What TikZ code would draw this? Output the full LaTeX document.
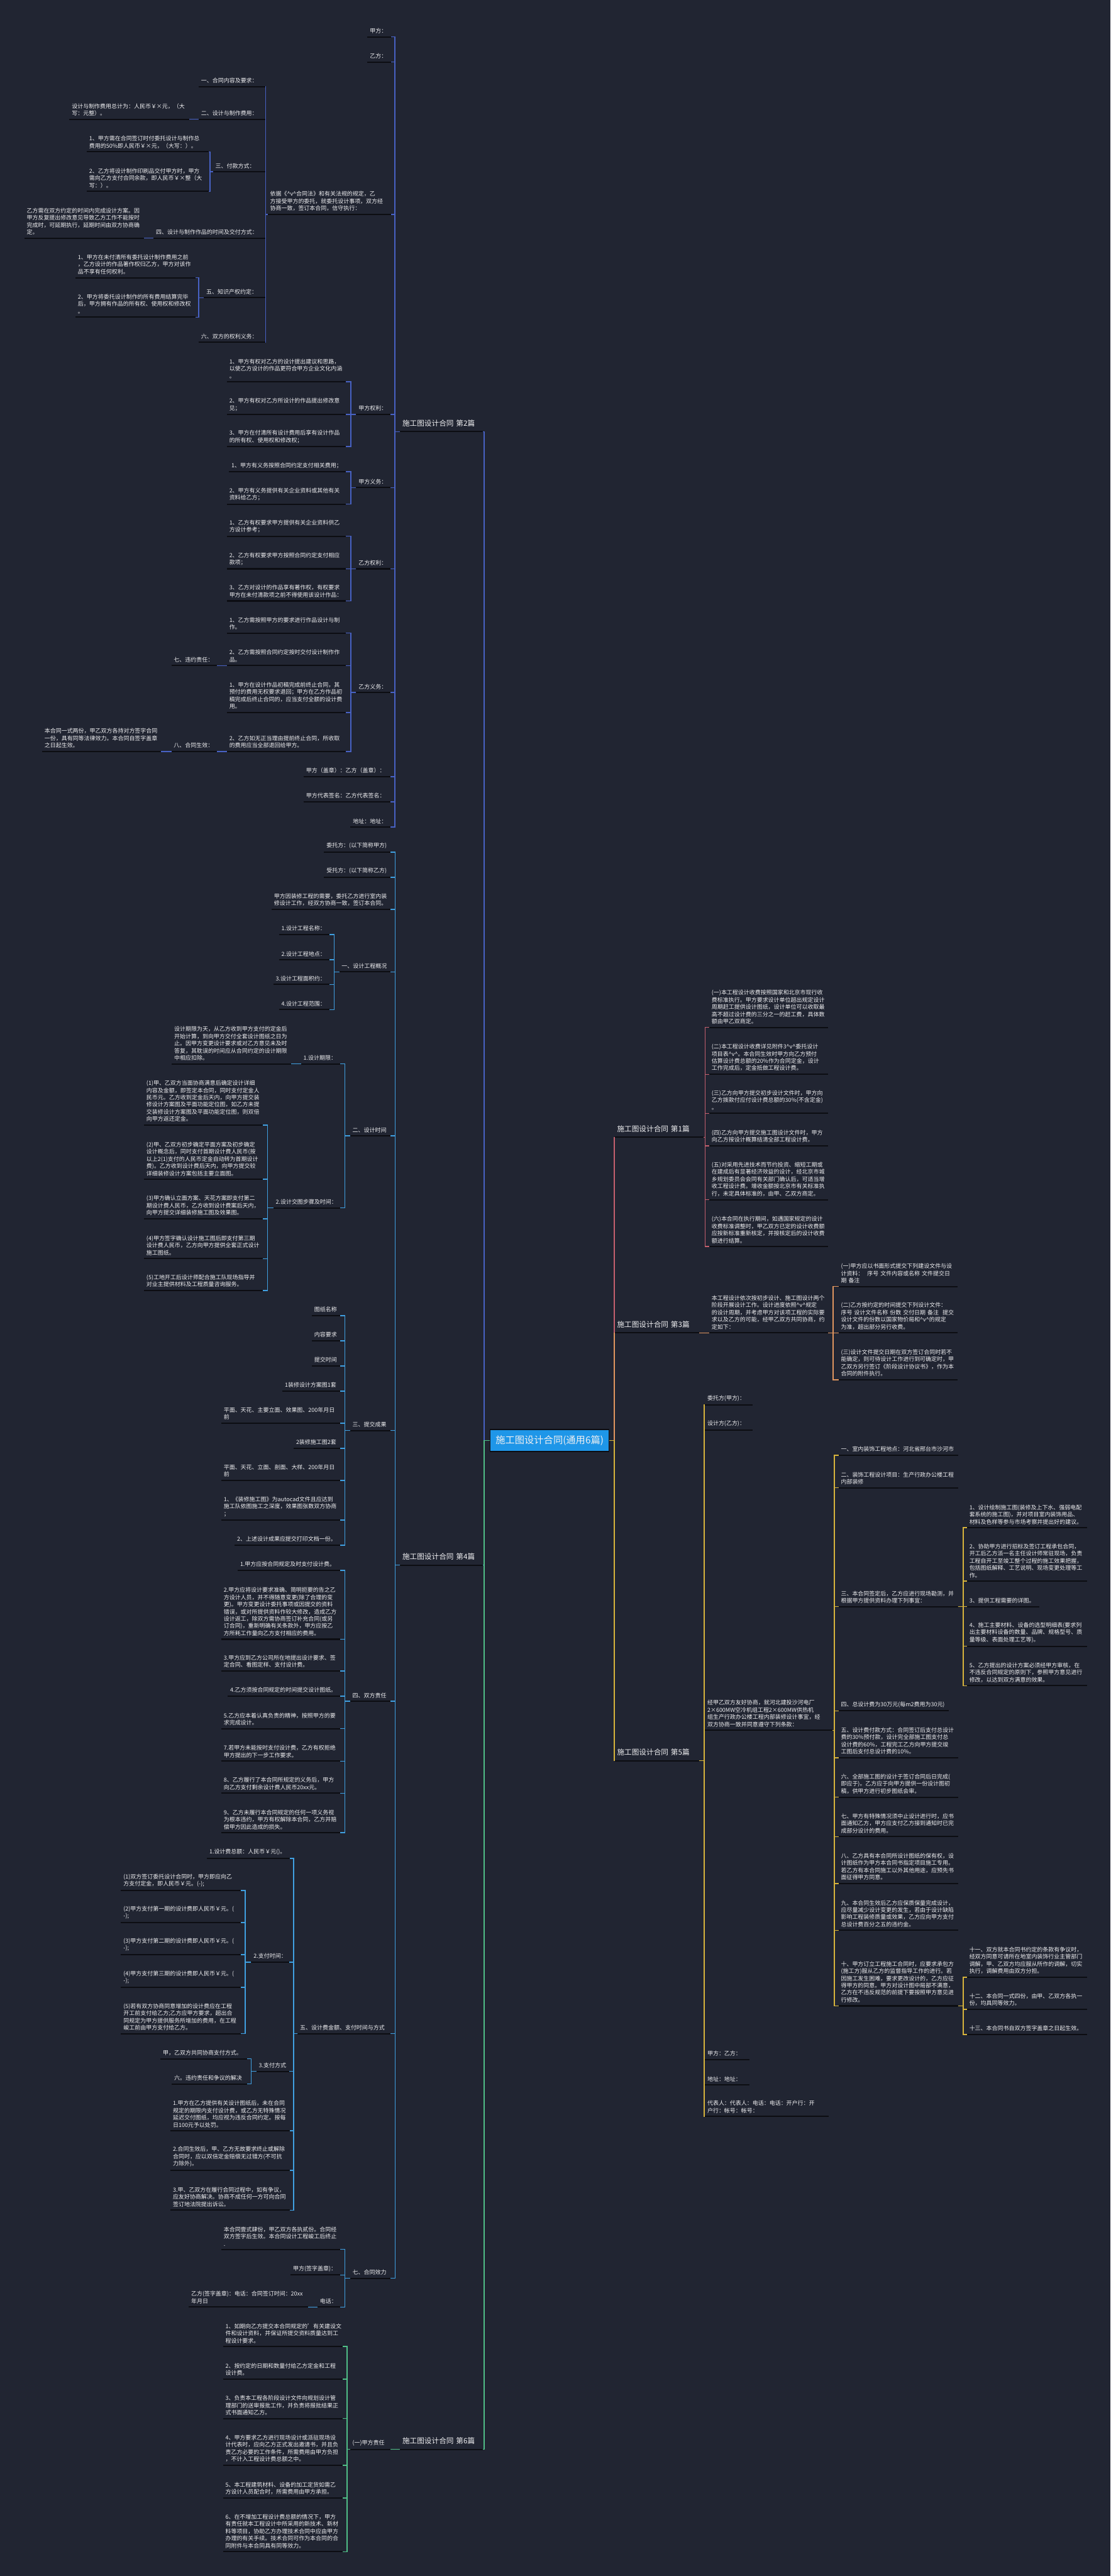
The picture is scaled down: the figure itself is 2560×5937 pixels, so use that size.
\documentclass[tikz,border=0pt]{standalone}
\usepackage{fontspec}
\setmainfont{Noto Sans CJK SC}
\usepackage{xcolor}
\usepackage{tikz}
\definecolor{mybg}{RGB}{33,37,50}
\definecolor{mytext}{RGB}{240,240,242}
\definecolor{myline}{RGB}{12,13,18}
\definecolor{myblue}{RGB}{72,98,196}
\definecolor{mycyan}{RGB}{64,160,225}
\definecolor{mygreen}{RGB}{80,190,135}
\definecolor{myred}{RGB}{196,96,110}
\definecolor{myorange}{RGB}{225,150,95}
\definecolor{myyellow}{RGB}{215,180,60}
\definecolor{mytopic}{RGB}{30,150,232}
\tikzset{
  uline/.style={draw=myline, line width=0.85pt},
  leaf/.style={anchor=south west, align=left, text=mytext,
    inner xsep=0.05cm, inner ysep=2pt, font=\fontsize{3.7}{4.72}\selectfont,
    append after command={(\tikzlastnode.south west) edge[uline] (\tikzlastnode.south east)}},
  branch/.style={leaf, inner ysep=3pt, font=\fontsize{4.8}{5.8}\selectfont},
  topic/.style={rectangle, draw=myline, fill=mytopic, text=mytext, line width=0.6pt,
    minimum width=2.74cm, minimum height=0.51cm, inner sep=0pt,
    font=\fontsize{6.3}{7.5}\selectfont},
  cblue/.style={draw=myblue, line width=0.6pt},
  ccyan/.style={draw=mycyan, line width=0.6pt},
  cgreen/.style={draw=mygreen, line width=0.6pt},
  cred/.style={draw=myred, line width=0.6pt},
  corange/.style={draw=myorange, line width=0.6pt},
  cyellow/.style={draw=myyellow, line width=0.6pt}
}
\begin{document}
\begin{tikzpicture}[x=0.01cm, y=-0.01cm]
  \fill[mybg] (0,0) rectangle (2560,5937);
  \useasboundingbox (0,0) rectangle (2560,5937);

  % central topic
  \node[topic] (root) at (1267,3320) {施工图设计合同(通用6篇)};

  % ---------------- 第2篇 ----------------
  \node[branch, text width=1.80cm] (p2) at (922,995) {施工图设计合同 第2篇};
  \node[leaf, text width=0.43cm] (p2a) at (847,85) {甲方：};
  \node[leaf, text width=0.43cm] (p2b) at (847,143) {乙方：};
  \node[leaf, text width=2.73cm] (p2c) at (617,494) {依据《\textasciicircum v\textasciicircum{}合同法》和有关法规的规定，乙\\方接受甲方的委托，就委托设计事项，双方经\\协商一致，签订本合同，信守执行：};
  \node[leaf, text width=0.67cm] (p2d) at (821,955) {甲方权利：};
  \node[leaf, text width=0.67cm] (p2e) at (821,1124) {甲方义务：};
  \node[leaf, text width=0.67cm] (p2f) at (821,1311) {乙方权利：};
  \node[leaf, text width=0.67cm] (p2g) at (821,1596) {乙方义务：};
  \node[leaf, text width=1.88cm] (p2h) at (700,1790) {甲方（盖章）：乙方（盖章）：};
  \node[leaf, text width=1.88cm] (p2i) at (700,1848) {甲方代表签名：乙方代表签名：};
  \node[leaf, text width=0.80cm] (p2j) at (808,1906) {地址：地址：};

  \node[leaf, text width=1.42cm] (p2c1) at (458,200) {一、合同内容及要求：};
  \node[leaf, text width=1.42cm] (p2c2) at (458,275) {二、设计与制作费用：};
  \node[leaf, text width=1.09cm] (p2c3) at (491,396) {三、付款方式：};
  \node[leaf, text width=2.46cm] (p2c4) at (354,549) {四、设计与制作作品的时间及交付方式：};
  \node[leaf, text width=1.30cm] (p2c5) at (470,686) {五、知识产权约定：};
  \node[leaf, text width=1.42cm] (p2c6) at (458,789) {六、双方的权利义务：};
  \node[leaf, text width=2.65cm] (p2c2a) at (160,275) {设计与制作费用总计为：人民币￥×元，（大\\写：元整）。};
  \node[leaf, text width=2.70cm] (p2c3a) at (200,350) {1、甲方需在合同签订时付委托设计与制作总\\费用的50\%即人民币￥×元，（大写：）。};
  \node[leaf, text width=2.70cm] (p2c3b) at (200,441) {2、乙方将设计制作印刷品交付甲方时，甲方\\需向乙方支付合同余款，即人民币￥×整（大\\写：）。};
  \node[leaf, text width=2.64cm] (p2c4a) at (56,549) {乙方需在双方约定的时间内完成设计方案。因\\甲方反复提出修改意见导致乙方工作不能按时\\完成时，可延期执行，延期时间由双方协商确\\定。};
  \node[leaf, text width=2.65cm] (p2c5a) at (174,640) {1、甲方在未付清所有委托设计制作费用之前\\，乙方设计的作品著作权归乙方，甲方对该作\\品不享有任何权利。};
  \node[leaf, text width=2.65cm] (p2c5b) at (174,731) {2、甲方将委托设计制作的所有费用结算完毕\\后，甲方拥有作品的所有权、使用权和修改权\\。};

  \node[leaf, text width=2.63cm] (p2d1) at (523,880) {1、甲方有权对乙方的设计提出建议和思路，\\以使乙方设计的作品更符合甲方企业文化内涵\\。};
  \node[leaf, text width=2.63cm] (p2d2) at (523,955) {2、甲方有权对乙方所设计的作品提出修改意\\见；};
  \node[leaf, text width=2.63cm] (p2d3) at (523,1029) {3、甲方在付清所有设计费用后享有设计作品\\的所有权、使用权和修改权；};
  \node[leaf, text width=2.58cm] (p2e1) at (528,1087) {1、甲方有义务按照合同约定支付相关费用；};
  \node[leaf, text width=2.63cm] (p2e2) at (523,1162) {2、甲方有义务提供有关企业资料或其他有关\\资料给乙方；};
  \node[leaf, text width=2.63cm] (p2f1) at (523,1236) {1、乙方有权要求甲方提供有关企业资料供乙\\方设计参考；};
  \node[leaf, text width=2.63cm] (p2f2) at (523,1311) {2、乙方有权要求甲方按照合同约定支付相应\\款项；};
  \node[leaf, text width=2.63cm] (p2f3) at (523,1385) {3、乙方对设计的作品享有著作权，有权要求\\甲方在未付清款项之前不得使用该设计作品：};
  \node[leaf, text width=2.63cm] (p2g1) at (523,1459) {1、乙方需按照甲方的要求进行作品设计与制\\作。};
  \node[leaf, text width=2.63cm] (p2g2) at (523,1534) {2、乙方需按照合同约定按时交付设计制作作\\品。};
  \node[leaf, text width=2.63cm] (p2g3) at (523,1642) {1、甲方在设计作品初稿完成前终止合同，其\\预付的费用无权要求退回；甲方在乙方作品初\\稿完成后终止合同的，应当支付全额的设计费\\用。};
  \node[leaf, text width=2.63cm] (p2g4) at (523,1732) {2、乙方如无正当理由提前终止合同，所收取\\的费用应当全部退回给甲方。};
  \node[leaf, text width=0.93cm] (p2g2a) at (395,1534) {七、违约责任：};
  \node[leaf, text width=0.93cm] (p2g4a) at (395,1732) {八、合同生效：};
  \node[leaf, text width=2.63cm] (p2g4a1) at (97,1732) {本合同一式两份，甲乙双方各持对方签字合同\\一份，具有同等法律效力。本合同自签字盖章\\之日起生效。};

  % ---------------- 第4篇 ----------------
  \node[branch, text width=1.80cm] (p4) at (922,3607) {施工图设计合同 第4篇};
  \node[leaf, text width=1.41cm] (p4a) at (747,1964) {委托方：(以下简称甲方)};
  \node[leaf, text width=1.41cm] (p4b) at (747,2022) {受托方：(以下简称乙方)};
  \node[leaf, text width=2.62cm] (p4c) at (626,2096) {甲方因装修工程的需要，委托乙方进行室内装\\修设计工作，经双方协商一致，签订本合同。};
  \node[leaf, text width=1.06cm] (p4d) at (782,2240) {一、设计工程概况};
  \node[leaf, text width=0.81cm] (p4e) at (807,2618) {二、设计时间};
  \node[leaf, text width=0.81cm] (p4f) at (807,3297) {三、提交成果};
  \node[leaf, text width=0.81cm] (p4g) at (807,3921) {四、双方责任};
  \node[leaf, text width=2.02cm] (p4h) at (686,4687) {五、设计费金额、支付时间与方式};
  \node[leaf, text width=0.81cm] (p4i) at (807,5251) {七、合同效力};

  \node[leaf, text width=1.05cm] (p4d1) at (643,2154) {1.设计工程名称：};
  \node[leaf, text width=1.05cm] (p4d2) at (643,2212) {2.设计工程地点：};
  \node[leaf, text width=1.18cm] (p4d3) at (630,2269) {3.设计工程面积约：};
  \node[leaf, text width=1.05cm] (p4d4) at (643,2327) {4.设计工程范围：};

  \node[leaf, text width=0.79cm] (p4e1) at (694,2452) {1.设计期限：};
  \node[leaf, text width=1.43cm] (p4e2) at (630,2784) {2.设计交图步骤及时间：};
  \node[leaf, text width=2.64cm] (p4e1a) at (396,2452) {设计期限为天，从乙方收到甲方支付的定金后\\开始计算，到向甲方交付全套设计图纸之日为\\止。因甲方变更设计要求或对乙方意见未及时\\答复，其耽误的时间应从合同约定的设计期限\\中相应扣除。};
  \node[leaf, text width=2.63cm] (p4e2a) at (332,2593) {(1)甲、乙双方当面协商满意后确定设计详细\\内容及金额，即签定本合同，同时支付定金人\\民币元。乙方收到定金后天内，向甲方提交装\\修设计方案图及平面功能定位图，如乙方未提\\交装修设计方案图及平面功能定位图，则双倍\\向甲方返还定金。};
  \node[leaf, text width=2.63cm] (p4e2b) at (332,2718) {(2)甲、乙双方初步确定平面方案及初步确定\\设计概念后，同时支付首期设计费人民币(按\\以上2(1)支付的人民币定金自动转为首期设计\\费)。乙方收到设计费后天内，向甲方提交较\\详细装修设计方案包括主要立面图。};
  \node[leaf, text width=2.63cm] (p4e2c) at (332,2809) {(3)甲方确认立面方案、天花方案即支付第二\\期设计费人民币，乙方收到设计费案后天内，\\向甲方提交详细装修施工图及效果图。};
  \node[leaf, text width=2.63cm] (p4e2d) at (332,2901) {(4)甲方签字确认设计施工图后即支付第三期\\设计费人民币，乙方向甲方提供全套正式设计\\施工图纸。};
  \node[leaf, text width=2.63cm] (p4e2e) at (332,2974) {(5)工地开工后设计师配合施工队现场指导并\\对业主提供材料及工程质量咨询服务。};

  \node[leaf, text width=0.54cm] (p4f1) at (719,3032) {图纸名称};
  \node[leaf, text width=0.54cm] (p4f2) at (719,3090) {内容要求};
  \node[leaf, text width=0.54cm] (p4f3) at (719,3148) {提交时间};
  \node[leaf, text width=1.22cm] (p4f4) at (651,3206) {1装修设计方案图1套};
  \node[leaf, text width=2.63cm] (p4f5) at (510,3280) {平面、天花、主要立面、效果图、200年月日\\前};
  \node[leaf, text width=0.96cm] (p4f6) at (677,3338) {2装修施工图2套};
  \node[leaf, text width=2.63cm] (p4f7) at (510,3412) {平面、天花、立面、剖面、大样、200年月日\\前};
  \node[leaf, text width=2.63cm] (p4f8) at (510,3503) {1、《装修施工图》为autocad文件且应达到\\施工队依图施工之深度，效果图张数双方协商\\；};
  \node[leaf, text width=2.32cm] (p4f9) at (541,3561) {2、上述设计成果应提交打印文档一份。};

  \node[leaf, text width=2.25cm] (p4g1) at (548,3619) {1.甲方应按合同规定及时支付设计费。};
  \node[leaf, text width=2.63cm] (p4g2) at (510,3778) {2.甲方应将设计要求准确、简明扼要的告之乙\\方设计人员，并不得随意变更(除了合理的变\\更)。甲方变更设计委托事项或因提交的资料\\错误，或对所提供资料作较大修改，造成乙方\\设计返工，除双方需协商签订补充合同(或另\\订合同)，重新明确有关条款外，甲方应按乙\\方所耗工作量向乙方支付相应的费用。};
  \node[leaf, text width=2.63cm] (p4g3) at (510,3851) {3.甲方应到乙方公司所在地提出设计要求、签\\定合同、看图定样、支付设计费。};
  \node[leaf, text width=2.48cm] (p4g4) at (525,3909) {4.乙方须按合同规定的时间提交设计图纸。};
  \node[leaf, text width=2.63cm] (p4g5) at (510,3984) {5.乙方应本着认真负责的精神，按照甲方的要\\求完成设计。};
  \node[leaf, text width=2.63cm] (p4g6) at (510,4059) {7.若甲方未能按时支付设计费，乙方有权拒绝\\甲方提出的下一步工作要求。};
  \node[leaf, text width=2.63cm] (p4g7) at (510,4133) {8、乙方履行了本合同所规定的义务后，甲方\\向乙方支付剩余设计费人民币20xx元。};
  \node[leaf, text width=2.63cm] (p4g8) at (510,4224) {9、乙方未履行本合同规定的任何一项义务视\\为根本违约，甲方有权解除本合同，乙方并赔\\偿甲方因此造成的损失。};

  \node[leaf, text width=1.79cm] (p4h1) at (477,4283) {1.设计费总额：人民币￥元()。};
  \node[leaf, text width=0.77cm] (p4h2) at (579,4522) {2.支付时间：};
  \node[leaf, text width=0.65cm] (p4h3) at (591,4774) {3.支付方式};
  \node[leaf, text width=2.63cm] (p4h4) at (393,4911) {1.甲方在乙方提供有关设计图纸后，未在合同\\规定的期限内支付设计费，或乙方无特殊情况\\延迟交付图纸，均应视为违反合同约定。按每\\日100元予以处罚。};
  \node[leaf, text width=2.63cm] (p4h5) at (393,5002) {2.合同生效后，甲、乙方无故要求终止或解除\\合同时，应以双倍定金赔偿无过错方(不可抗\\力除外)。};
  \node[leaf, text width=2.63cm] (p4h6) at (393,5094) {3.甲、乙双方在履行合同过程中，如有争议，\\应友好协商解决。协商不成任何一方可向合同\\签订地法院提出诉讼。};
  \node[leaf, text width=2.65cm] (p4h2a) at (279,4357) {(1)双方签订委托设计合同时，甲方即应向乙\\方支付定金，即人民币￥元。(-);};
  \node[leaf, text width=2.65cm] (p4h2b) at (279,4431) {(2)甲方支付第一期的设计费即人民币￥元。(\\-);};
  \node[leaf, text width=2.65cm] (p4h2c) at (279,4505) {(3)甲方支付第二期的设计费即人民币￥元。(\\-);};
  \node[leaf, text width=2.65cm] (p4h2d) at (279,4580) {(4)甲方支付第三期的设计费即人民币￥元。(\\-);};
  \node[leaf, text width=2.65cm] (p4h2e) at (279,4687) {(5)若有双方协商同意增加的设计费应在工程\\开工前支付给乙方;乙方应甲方要求，超出合\\同规定为甲方提供服务所增加的费用，在工程\\峻工前由甲方支付给乙方。};
  \node[leaf, text width=1.88cm] (p4h3a) at (370,4745) {甲，乙双方共同协商支付方式。};
  \node[leaf, text width=1.62cm] (p4h3b) at (396,4803) {六。违约责任和争议的解决};

  \node[leaf, text width=2.63cm] (p4i1) at (510,5184) {本合同壹式肆份，甲乙双方各执贰份。合同经\\双方签字后生效。本合同设计工程峻工后终止\\.};
  \node[leaf, text width=1.03cm] (p4i2) at (670,5243) {甲方(签字盖章)：};
  \node[leaf, text width=0.41cm] (p4i3) at (732,5317) {电话：};
  \node[leaf, text width=2.63cm] (p4i3a) at (435,5317) {乙方(签字盖章)：电话：合同签订时间：20xx\\年月日};

  % ---------------- 第6篇 ----------------
  \node[branch, text width=1.80cm] (p6) at (922,5645) {施工图设计合同 第6篇};
  \node[leaf, text width=0.81cm] (p6a) at (807,5645) {(一)甲方责任};
  \node[leaf, text width=2.64cm] (p6a1) at (514,5408) {1、如期向乙方提交本合同规定的'有关建设文\\件和设计资料，并保证所提交资料质量达到工\\程设计要求。};
  \node[leaf, text width=2.64cm] (p6a2) at (514,5483) {2、按约定的日期和数量付给乙方定金和工程\\设计费。};
  \node[leaf, text width=2.64cm] (p6a3) at (514,5574) {3、负责本工程各阶段设计文件向规划设计管\\理部门的送审报批工作，并负责将报批结果正\\式书面通知乙方。};
  \node[leaf, text width=2.64cm] (p6a4) at (514,5682) {4、甲方要求乙方进行现场设计或派驻现场设\\计代表时，应向乙方正式发出邀请书，并且负\\责乙方必要的工作条件，所需费用由甲方负担\\，不计入工程设计费总额之中。};
  \node[leaf, text width=2.64cm] (p6a5) at (514,5757) {5、本工程建筑材料、设备的加工定货如需乙\\方设计人员配合时，所需费用由甲方承担。};
  \node[leaf, text width=2.64cm] (p6a6) at (514,5881) {6、在不增加工程设计费总额的情况下，甲方\\有责任就本工程设计中所采用的新技术、新材\\料等项目，协助乙方办理技术合同中应由甲方\\办理的有关手续。技术合同可作为本合同的合\\同附件与本合同具有同等效力。};

  % ---------------- 第1篇 ----------------
  \node[branch, text width=1.94cm] (p1) at (1417,2621) {施工图设计合同 第1篇};
  \node[leaf, text width=2.63cm] (p1a) at (1635,2368) {(一)本工程设计收费按照国家和北京市现行收\\费标准执行。甲方要求设计单位超出规定设计\\周期赶工提供设计图纸，设计单位可以收取最\\高不超过设计费的三分之一的赶工费，具体数\\额由甲乙双商定。};
  \node[leaf, text width=2.63cm] (p1b) at (1635,2476) {(二)本工程设计收费详见附件3\textasciicircum v\textasciicircum{}委托设计\\项目表\textasciicircum v\textasciicircum{}。本合同生效时甲方向乙方预付\\估算设计费总额的20\%作为合同定金，设计\\工作完成后，定金抵做工程设计费。};
  \node[leaf, text width=2.63cm] (p1c) at (1635,2566) {(三)乙方向甲方提交初步设计文件时，甲方向\\乙方拨款付应付设计费总额的30\%(不含定金)\\。};
  \node[leaf, text width=2.63cm] (p1d) at (1635,2641) {(四)乙方向甲方提交施工图设计文件时，甲方\\向乙方按设计概算结清全部工程设计费。};
  \node[leaf, text width=2.63cm] (p1e) at (1635,2765) {(五)对采用先进技术而节约投资、缩短工期或\\在建成后有显著经济效益的设计，经北京市城\\乡规划委员会会同有关部门确认后，可适当增\\收工程设计费。增收金额按北京市有关标准执\\行，未定具体标准的，由甲、乙双方商定。};
  \node[leaf, text width=2.63cm] (p1f) at (1635,2873) {(六)本合同在执行期间，如遇国家规定的设计\\收费标准调整时，甲乙双方已定的设计收费额\\应按新标准重新核定，并按核定后的设计收费\\额进行结算。};

  % ---------------- 第3篇 ----------------
  \node[branch, text width=1.83cm] (p3) at (1417,3072) {施工图设计合同 第3篇};
  \node[leaf, text width=2.63cm] (p3a) at (1635,3072) {本工程设计依次按初步设计、施工图设计两个\\阶段开展设计工作。设计进度依照\textasciicircum v\textasciicircum{}规定\\的设计周期，并考虑甲方对该项工程的实际要\\求以及乙方的可能，经甲乙双方共同协商，约\\定如下：};
  \node[leaf, text width=2.63cm] (p3a1) at (1933,2965) {(一)甲方应以书面形式提交下列建设文件与设\\计资料：\ \ 序号 文件内容或名称 文件提交日\\期 备注};
  \node[leaf, text width=2.63cm] (p3a2) at (1933,3072) {(二)乙方按约定的时间提交下列设计文件：\\序号 设计文件名称 份数 交付日期 备注\ \ 提交\\设计文件的份数以国家物价局和\textasciicircum v\textasciicircum{}的规定\\为准，超出部分另行收费。};
  \node[leaf, text width=2.63cm] (p3a3) at (1933,3180) {(三)设计文件提交日期在双方签订合同时若不\\能确定，则可待设计工作进行到可确定时，甲\\乙双方另行签订《阶段设计协议书》，作为本\\合同的附件执行。};

  % ---------------- 第5篇 ----------------
  \node[branch, text width=1.83cm] (p5) at (1417,4058) {施工图设计合同 第5篇};
  \node[leaf, text width=0.99cm] (p5a) at (1625,3238) {委托方(甲方)：};
  \node[leaf, text width=0.99cm] (p5b) at (1625,3296) {设计方(乙方)：};
  \node[leaf, text width=2.83cm] (p5c) at (1625,3988) {经甲乙双方友好协商，就河北建投沙河电厂\\2×600MW空冷机组工程2×600MW供热机\\组生产行政办公楼工程内部装修设计事宜，经\\双方协商一致并同意遵守下列条款：};
  \node[leaf, text width=0.91cm] (p5d) at (1625,4747) {甲方：乙方：};
  \node[leaf, text width=0.91cm] (p5e) at (1625,4805) {地址：地址：};
  \node[leaf, text width=2.74cm] (p5f) at (1625,4878) {代表人：代表人：电话：电话：开户行：开\\户行：帐号：帐号：};

  \node[leaf, text width=2.64cm] (p5c1) at (1933,3354) {一、室内装饰工程地点：河北省邢台市沙河市};
  \node[leaf, text width=2.64cm] (p5c2) at (1933,3429) {二、装饰工程设计项目：生产行政办公楼工程\\内部装修};
  \node[leaf, text width=2.64cm] (p5c3) at (1933,3703) {三、本合同签定后，乙方应进行现场勘测，并\\根据甲方提供资料办理下列事宜：};
  \node[leaf, text width=2.43cm] (p5c4) at (1933,3943) {四、总设计费为30万元(每m2费用为30元)};
  \node[leaf, text width=2.64cm] (p5c5) at (1933,4051) {五、设计费付款方式：合同签订后支付总设计\\费的30\%预付款，设计完全部施工图支付总\\设计费的60\%，工程完工乙方向甲方提交竣\\工图后支付总设计费的10\%。};
  \node[leaf, text width=2.64cm] (p5c6) at (1933,4142) {六、全部施工图的设计于签订合同后日完成(\\即应于)。乙方应于向甲方提供一份设计图初\\稿，供甲方进行初步图纸会审。};
  \node[leaf, text width=2.64cm] (p5c7) at (1933,4233) {七、甲方有特殊情况须中止设计进行时，应书\\面通知乙方，甲方应支付乙方接到通知时已完\\成部分设计的费用。};
  \node[leaf, text width=2.64cm] (p5c8) at (1933,4341) {八、乙方具有本合同所设计图纸的保有权，设\\计图纸作为甲方本合同书指定项目施工专用。\\若乙方有本合同施工以外其他用途，应预先书\\面征得甲方同意。};
  \node[leaf, text width=2.64cm] (p5c9) at (1933,4449) {九、本合同生效后乙方应保质保量完成设计，\\应尽量减少设计变更的发生，若由于设计缺陷\\影响工程装修质量或效果，乙方应向甲方支付\\总设计费百分之五的违约金。};
  \node[leaf, text width=2.64cm] (p5c10) at (1933,4623) {十、甲方订立工程施工合同时，应要求承包方\\(施工方)服从乙方的监督指导工作的进行。若\\因施工发生困难，要求更改设计的，乙方应征\\得甲方的同意。甲方对设计图中局部不满意，\\乙方在不违反规范的前提下要按照甲方意见进\\行修改。};

  \node[leaf, text width=2.65cm] (p5c3a) at (2229,3521) {1、设计绘制施工图(装修及上下水、强弱电配\\套系统的施工图)，并对项目室内装饰用品、\\材料及色样等参与市场考察并提出好的建议。};
  \node[leaf, text width=2.65cm] (p5c3b) at (2229,3644) {2、协助甲方进行招标及签订工程承包合同，\\开工后乙方派一名主任设计师常驻现场，负责\\工程自开工至竣工整个过程的施工效果把握，\\包括图纸解释、工艺说明、现场变更处理等工\\作。};
  \node[leaf, text width=1.56cm] (p5c3c) at (2229,3703) {3、提供工程需要的详图。};
  \node[leaf, text width=2.65cm] (p5c3d) at (2229,3794) {4、施工主要材料、设备的选型明细表(要求列\\出主要材料设备的数量、品牌、规格型号、质\\量等级、表面处理工艺等)。};
  \node[leaf, text width=2.65cm] (p5c3e) at (2229,3885) {5、乙方提出的设计方案必须经甲方审核，在\\不违反合同规定的原则下，参照甲方意见进行\\修改，以达到双方满意的效果。};
  \node[leaf, text width=2.65cm] (p5c10a) at (2229,4557) {十一、双方就本合同书约定的条款有争议时，\\经双方同意可请所在地室内装饰行业主管部门\\调解，甲、乙双方均应服从所作的调解，切实\\执行，调解费用由双方分担。};
  \node[leaf, text width=2.65cm] (p5c10b) at (2229,4631) {十二、本合同一式四份，由甲、乙双方各执一\\份，均具同等效力。};
  \node[leaf, text width=2.65cm] (p5c10c) at (2229,4689) {十三、本合同书自双方签字盖章之日起生效。};

  % connectors, left side
  \draw[cblue] (root.west) -- ++(-13,0) |- (p2.south east);
  \foreach \c in {p2a,p2b,p2c,p2d,p2e,p2f,p2g,p2h,p2i,p2j}
    \draw[cblue] (p2.south west) -- ++(-12,0) |- (\c.south east);
  \foreach \c in {p2c1,p2c2,p2c3,p2c4,p2c5,p2c6}
    \draw[cblue] (p2c.south west) -- ++(-5,0) |- (\c.south east);
  \draw[cblue] (p2c2.south west) -- (p2c2a.south east);
  \foreach \c in {p2c3a,p2c3b}
    \draw[cblue] (p2c3.south west) -- ++(-7,0) |- (\c.south east);
  \draw[cblue] (p2c4.south west) -- (p2c4a.south east);
  \foreach \c in {p2c5a,p2c5b}
    \draw[cblue] (p2c5.south west) -- ++(-12,0) |- (\c.south east);
  \foreach \c in {p2d1,p2d2,p2d3}
    \draw[cblue] (p2d.south west) -- ++(-12,0) |- (\c.south east);
  \foreach \c in {p2e1,p2e2}
    \draw[cblue] (p2e.south west) -- ++(-12,0) |- (\c.south east);
  \foreach \c in {p2f1,p2f2,p2f3}
    \draw[cblue] (p2f.south west) -- ++(-12,0) |- (\c.south east);
  \foreach \c in {p2g1,p2g2,p2g3,p2g4}
    \draw[cblue] (p2g.south west) -- ++(-12,0) |- (\c.south east);
  \draw[cblue] (p2g2.south west) -- (p2g2a.south east);
  \draw[cblue] (p2g4.south west) -- (p2g4a.south east);
  \draw[cblue] (p2g4a.south west) -- (p2g4a1.south east);

  \draw[ccyan] (root.west) -- ++(-13,0) |- (p4.south east);
  \foreach \c in {p4a,p4b,p4c,p4d,p4e,p4f,p4g,p4h,p4i}
    \draw[ccyan] (p4.south west) -- ++(-11,0) |- (\c.south east);
  \foreach \c in {p4d1,p4d2,p4d3,p4d4}
    \draw[ccyan] (p4d.south west) -- ++(-12,0) |- (\c.south east);
  \foreach \c in {p4e1,p4e2}
    \draw[ccyan] (p4e.south west) -- ++(-12,0) |- (\c.south east);
  \draw[ccyan] (p4e1.south west) -- (p4e1a.south east);
  \foreach \c in {p4e2a,p4e2b,p4e2c,p4e2d,p4e2e}
    \draw[ccyan] (p4e2.south west) -- ++(-13,0) |- (\c.south east);
  \foreach \c in {p4f1,p4f2,p4f3,p4f4,p4f5,p4f6,p4f7,p4f8,p4f9}
    \draw[ccyan] (p4f.south west) -- ++(-12,0) |- (\c.south east);
  \foreach \c in {p4g1,p4g2,p4g3,p4g4,p4g5,p4g6,p4g7,p4g8}
    \draw[ccyan] (p4g.south west) -- ++(-12,0) |- (\c.south east);
  \foreach \c in {p4h1,p4h2,p4h3,p4h4,p4h5,p4h6}
    \draw[ccyan] (p4h.south west) -- ++(-9,0) |- (\c.south east);
  \foreach \c in {p4h2a,p4h2b,p4h2c,p4h2d,p4h2e}
    \draw[ccyan] (p4h2.south west) -- ++(-14,0) |- (\c.south east);
  \foreach \c in {p4h3a,p4h3b}
    \draw[ccyan] (p4h3.south west) -- ++(-12,0) |- (\c.south east);
  \foreach \c in {p4i1,p4i2,p4i3}
    \draw[ccyan] (p4i.south west) -- ++(-12,0) |- (\c.south east);
  \draw[ccyan] (p4i3.south west) -- (p4i3a.south east);

  \draw[cgreen] (root.west) -- ++(-13,0) |- (p6.south east);
  \draw[cgreen] (p6.south west) -- (p6a.south east);
  \foreach \c in {p6a1,p6a2,p6a3,p6a4,p6a5,p6a6}
    \draw[cgreen] (p6a.south west) -- ++(-7,0) |- (\c.south east);

  % connectors, right side
  \draw[cred] (root.east) -- ++(11,0) |- (p1.south west);
  \foreach \c in {p1a,p1b,p1c,p1d,p1e,p1f}
    \draw[cred] (p1.south east) -- ++(3,0) |- (\c.south west);

  \draw[corange] (root.east) -- ++(11,0) |- (p3.south west);
  \draw[corange] (p3.south east) -- (p3a.south west);
  \foreach \c in {p3a1,p3a2,p3a3}
    \draw[corange] (p3a.south east) -- ++(11,0) |- (\c.south west);

  \draw[cyellow] (root.east) -- ++(11,0) |- (p5.south west);
  \foreach \c in {p5a,p5b,p5c,p5d,p5e,p5f}
    \draw[cyellow] (p5.south east) -- ++(12,0) |- (\c.south west);
  \foreach \c in {p5c1,p5c2,p5c3,p5c4,p5c5,p5c6,p5c7,p5c8,p5c9,p5c10}
    \draw[cyellow] (p5c.south east) -- ++(4,0) |- (\c.south west);
  \foreach \c in {p5c3a,p5c3b,p5c3c,p5c3d,p5c3e}
    \draw[cyellow] (p5c3.south east) -- ++(12,0) |- (\c.south west);
  \foreach \c in {p5c10a,p5c10b,p5c10c}
    \draw[cyellow] (p5c10.south east) -- ++(12,0) |- (\c.south west);
\end{tikzpicture}
\end{document}
